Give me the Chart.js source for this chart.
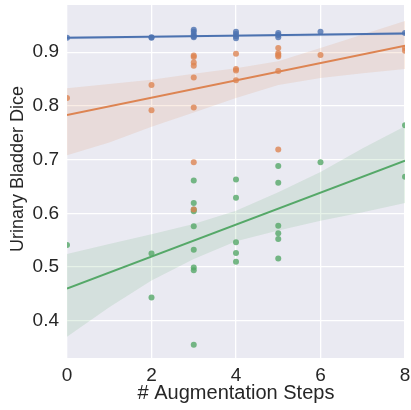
<!DOCTYPE html>
<html>
<head>
<meta charset="utf-8">
<script src="https://cdn.jsdelivr.net/npm/chart.js@4"></script>
<style>
  html, body { margin: 0; padding: 0; background: #fff; }
</style>
</head>
<body>
<canvas id="chart" width="411" height="410"></canvas>
<script>
// tick positions
const xTicks = [0, 2, 4, 6, 8];
const yTicks = [0.4, 0.5, 0.6, 0.7, 0.8, 0.9];

// scatter points per series
const blueX = [0, 2, 2, 3, 3, 3, 3, 3, 4, 4, 4, 4, 5, 5, 5, 6, 8];
const blueY = [0.927, 0.928, 0.927, 0.942, 0.938, 0.933, 0.930, 0.928, 0.938, 0.934, 0.930, 0.926, 0.936, 0.932, 0.928, 0.938, 0.936];

const orangeX = [0, 2, 2, 3, 3, 3, 3, 3, 3, 3, 3, 4, 4, 4, 4, 5, 5, 5, 5, 5, 5, 6, 8, 8];
const orangeY = [0.815, 0.839, 0.792, 0.894, 0.891, 0.881, 0.875, 0.853, 0.797, 0.695, 0.607, 0.897, 0.869, 0.866, 0.848, 0.908, 0.898, 0.895, 0.892, 0.865, 0.719, 0.895, 0.908, 0.903];

const greenX = [0, 2, 2, 3, 3, 3, 3, 3, 3, 3, 3, 3, 4, 4, 4, 4, 4, 5, 5, 5, 5, 5, 5, 6, 8, 8];
const greenY = [0.541, 0.525, 0.443, 0.661, 0.619, 0.607, 0.604, 0.576, 0.532, 0.499, 0.494, 0.355, 0.663, 0.629, 0.546, 0.526, 0.510, 0.688, 0.657, 0.577, 0.563, 0.552, 0.516, 0.695, 0.764, 0.668];

// regression lines (value at x=0 and x=8)
const fitX = [0, 8];
const blueFit = [0.927, 0.935];
const orangeFit = [0.783, 0.912];
const greenFit = [0.460, 0.698];

// confidence bands
const bandX = [0, 1, 2, 3, 4, 5, 6, 7, 8];
const blueUpper = [0.930, 0.930, 0.930, 0.931, 0.932, 0.933, 0.935, 0.936, 0.938];
const blueLower = [0.924, 0.925, 0.926, 0.928, 0.929, 0.929, 0.930, 0.931, 0.932];
const orangeUpper = [0.833, 0.841, 0.849, 0.860, 0.870, 0.883, 0.908, 0.933, 0.958];
const orangeLower = [0.708, 0.732, 0.761, 0.788, 0.815, 0.839, 0.852, 0.861, 0.869];
const greenUpper = [0.524, 0.543, 0.561, 0.580, 0.605, 0.639, 0.677, 0.721, 0.762];
const greenLower = [0.370, 0.425, 0.475, 0.515, 0.548, 0.568, 0.586, 0.602, 0.619];

const BLUE = "76,114,176";
const ORANGE = "221,132,82";
const GREEN = "85,168,104";

const pts = (xs, ys) => xs.map((x, i) => ({ x, y: ys[i] }));

function series(rgb, xs, ys, fit, upper, lower) {
  return [
    {
      type: "line", data: pts(bandX, upper), borderWidth: 0, pointRadius: 0,
      fill: false, order: 5
    },
    {
      type: "line", data: pts(bandX, lower), borderWidth: 0, pointRadius: 0,
      fill: "-1", backgroundColor: `rgba(${rgb},0.15)`, order: 5
    },
    {
      type: "scatter", data: pts(xs, ys), pointRadius: 3, pointBorderWidth: 0,
      backgroundColor: `rgba(${rgb},0.8)`, order: 3
    },
    {
      type: "line", data: pts(fitX, fit), borderColor: `rgb(${rgb})`, borderWidth: 2,
      pointRadius: 0, fill: false, order: 2
    }
  ];
}

const plotBg = {
  id: "plotBg",
  beforeDraw(c) {
    const { ctx, chartArea: a } = c;
    ctx.save();
    ctx.fillStyle = "#EAEAF2";
    ctx.fillRect(a.left, a.top, a.right - a.left, a.bottom - a.top);
    ctx.restore();
  }
};

const textColor = "#262626";
const font = "'Liberation Sans', Arial, sans-serif";

new Chart(document.getElementById("chart"), {
  type: "scatter",
  data: {
    datasets: [
      ...series(BLUE, blueX, blueY, blueFit, blueUpper, blueLower),
      ...series(ORANGE, orangeX, orangeY, orangeFit, orangeUpper, orangeLower),
      ...series(GREEN, greenX, greenY, greenFit, greenUpper, greenLower)
    ]
  },
  options: {
    responsive: false,
    animation: false,
    layout: { autoPadding: false, padding: { top: 5, right: 6, bottom: 0, left: 0 } },
    plugins: { legend: { display: false }, tooltip: { enabled: false } },
    scales: {
      x: {
        type: "linear", min: 0, max: 8,
        afterBuildTicks: s => { s.ticks = xTicks.map(v => ({ value: v })); },
        afterFit: s => { s.height = 52; s.paddingLeft = 0; s.paddingRight = 0; },
        grid: { color: "#ffffff", lineWidth: 1.3, drawTicks: false },
        border: { display: false },
        ticks: { color: textColor, padding: 6, maxRotation: 0, font: { family: font, size: 19 } },
        title: {
          display: true, text: "# Augmentation Steps", color: textColor,
          padding: { top: 0, bottom: 5 }, font: { family: font, size: 20 }
        }
      },
      y: {
        type: "linear", min: 0.3305, max: 0.988,
        afterBuildTicks: s => { s.ticks = yTicks.map(v => ({ value: v })); },
        afterFit: s => { s.width = 67; s.paddingTop = 0; s.paddingBottom = 0; },
        grid: { color: "#ffffff", lineWidth: 1.3, drawTicks: false },
        border: { display: false },
        ticks: {
          color: textColor, padding: 8, font: { family: font, size: 19 },
          callback: v => Number(v).toFixed(1)
        },
        title: {
          display: true, text: "     Urinary Bladder Dice", color: textColor,
          padding: { top: 7, bottom: 0 }, font: { family: font, size: 18 }
        }
      }
    }
  },
  plugins: [plotBg]
});
</script>
</body>
</html>
